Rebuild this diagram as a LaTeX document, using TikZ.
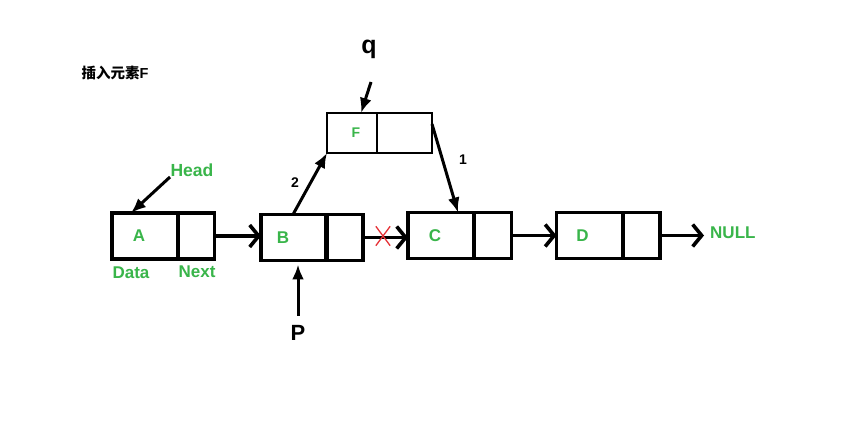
\documentclass[tikz,border=0pt]{standalone}
\usepackage{fontspec}
\setmainfont{Liberation Sans}
\newfontfamily\cjk{Noto Sans CJK SC}
\usetikzlibrary{arrows.meta,shapes.misc,calc}
\definecolor{gfgreen}{RGB}{57,181,74}
\definecolor{xred}{RGB}{230,50,55}
\tikzset{
  cell/.style={draw, line width=3.2pt, minimum height=46pt, inner sep=0pt, outer sep=0pt},
  dcell/.style={cell, minimum width=66pt},
  ncell/.style={cell, minimum width=37pt},
  fcell/.style={draw, line width=2.2pt, minimum height=40pt, inner sep=0pt, outer sep=0pt},
  gtext/.style={text=gfgreen, font=\bfseries\fontsize{17}{20}\selectfont, inner sep=0pt},
  btext/.style={text=black, font=\bfseries\fontsize{14}{16}\selectfont, inner sep=0pt},
  chain/.style={line width=3.4pt, -{Straight Barb[length=9pt,width=22pt,line width=3.6pt]}},
  ptr/.style={line width=3pt, -{Latex[length=15pt,width=12pt]}},
}
\begin{document}
\begin{tikzpicture}[x=1pt,y=-1pt]
\path[use as bounding box, fill=white] (0,0) rectangle (846,435);

% title
\node[font=\bfseries\fontsize{14.5}{17}\selectfont, inner sep=0pt] (title) at (115,73) {{\cjk 插入元素}F};

% list boxes
\node[dcell] (A) at (145,236) {}; \node[ncell] (An) at (196,236) {};
\node[dcell] (B) at (294,237.5) {}; \node[ncell] (Bn) at (344.5,237.5) {};
\node[dcell] (C) at (441,235.5) {}; \node[ncell] (Cn) at (493,235.5) {};
\node[dcell] (D) at (589.5,235.5) {}; \node[ncell] (Dn) at (641.5,235.5) {};
\node[fcell, minimum width=50pt] (F) at (352,133) {}; \node[fcell, minimum width=55pt] (Fn) at (404.5,133) {};

% letters
\node[gtext] (tA) at ([xshift=-6]A.center) {A};
\node[gtext] (tB) at ([xshift=-11]B.center) {B};
\node[gtext] (tC) at ([xshift=-6]C.center) {C};
\node[gtext] (tD) at ([xshift=-7]D.center) {D};
\node[gtext, font=\bfseries\fontsize{14}{16}\selectfont] (tF) at ([xshift=4]F.center) {F};

\node[gtext, font=\bfseries\fontsize{17.5}{20}\selectfont] (head) at (192,170) {Head};
\node[gtext] (data) at (131,273) {Data};
\node[gtext] (next) at (197,272) {Next};
\node[gtext, anchor=west] (null) at (710,233) {NULL};

\node[font=\bfseries\fontsize{25}{28}\selectfont, inner sep=0pt] (q) at (369,49) {q};
\node[font=\bfseries\fontsize{22}{25}\selectfont, inner sep=0pt] (P) at (298,333) {P};

\node[btext] (l2) at (295,183) {2};
\node[btext] (l1) at (463,160) {1};

% chain arrows
\draw[chain] (An.east) -- (B.west |- An.east);
\draw[chain] (Bn.east) -- (C.west |- Bn.east);
\draw[chain] (Cn.east) -- (D.west);
\coordinate (nullend) at (704,235.5);
\draw[chain] (Dn.east) -- (nullend);

% red cross on the broken link
\node[cross out, draw=xred, line width=1.3pt, minimum width=13pt, minimum height=18pt, inner sep=0pt] (x) at (383,236) {};

% pointer arrows
\coordinate (headstart) at (170,177);
\draw[ptr] (headstart) -- ([xshift=-14]A.north);
\coordinate (qstart) at (371,82);
\draw[ptr] (qstart) -- ([xshift=9]F.north);
\draw[ptr] ([xshift=-1]B.north) -- (F.south west);
\draw[ptr] ([yshift=9]Fn.east) -- ([xshift=17]C.north);
\coordinate (pstart) at (298,316);
\draw[ptr] (pstart) -- ([xshift=4,yshift=-4]B.south);
\end{tikzpicture}
\end{document}
